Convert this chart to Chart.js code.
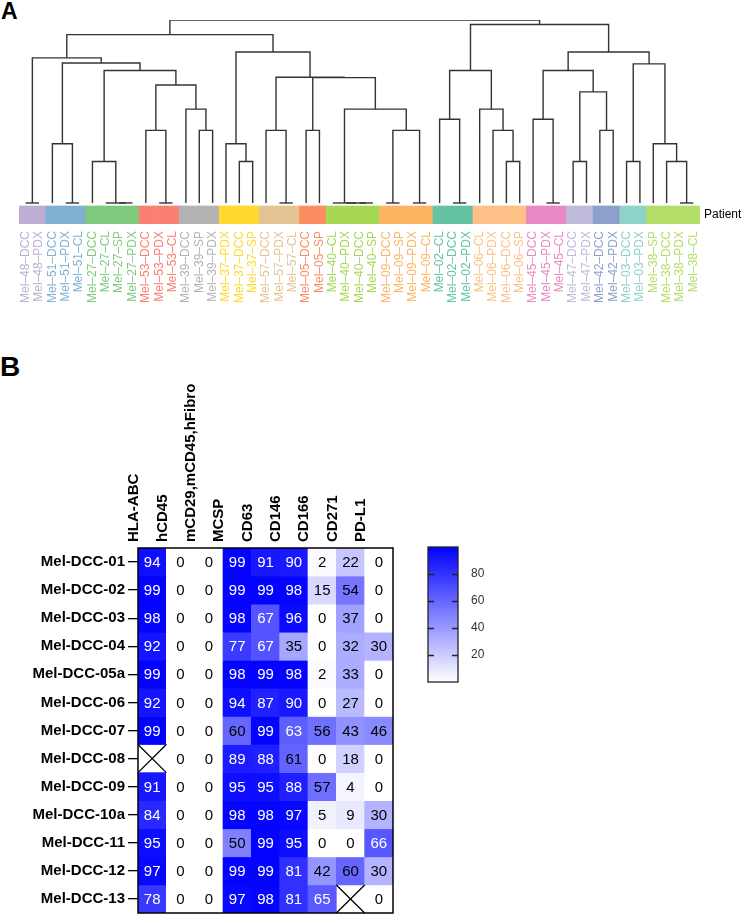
<!DOCTYPE html>
<html>
<head>
<meta charset="utf-8">
<script src="https://cdn.jsdelivr.net/npm/chart.js@4.4.1/dist/chart.umd.min.js"></script>
<style>
  body { margin: 0; background: #fff; width: 743px; height: 915px; position: relative; overflow: hidden;
         font-family: "Liberation Sans", Arial, Helvetica, sans-serif; }
  .box { position: absolute; }
  .panel { position: absolute; font-weight: bold; line-height: 1; color: #000; }
</style>
</head>
<body>
<div class="panel" style="left:1px;top:0;font-size:23px">A</div>
<div class="panel" style="left:0;top:353px;font-size:28px">B</div>
<div class="box" style="left:0;top:0;width:743px;height:314px"><canvas id="dendro"></canvas></div>
<div class="box" style="left:0;top:330px;width:400px;height:585px"><canvas id="heat"></canvas></div>
<div class="box" style="left:400px;top:530px;width:110px;height:170px"><canvas id="legend"></canvas></div>
<script>
// ---- panel A data ----
const leafLabels = [
  'Mel–48–DCC', 'Mel–48–PDX', 'Mel–51–DCC', 'Mel–51–PDX', 'Mel–51–CL',
  'Mel–27–DCC', 'Mel–27–CL', 'Mel–27–SP', 'Mel–27–PDX',
  'Mel–53–DCC', 'Mel–53–PDX', 'Mel–53–CL', 'Mel–39–DCC', 'Mel–39–SP', 'Mel–39–PDX',
  'Mel–37–PDX', 'Mel–37–DCC', 'Mel–37–SP', 'Mel–57–DCC', 'Mel–57–PDX', 'Mel–57–CL',
  'Mel–05–DCC', 'Mel–05–SP', 'Mel–40–CL', 'Mel–40–PDX', 'Mel–40–DCC', 'Mel–40–SP',
  'Mel–09–DCC', 'Mel–09–SP', 'Mel–09–PDX', 'Mel–09–CL', 'Mel–02–CL', 'Mel–02–DCC', 'Mel–02–PDX',
  'Mel–06–CL', 'Mel–06–PDX', 'Mel–06–DCC', 'Mel–06–SP', 'Mel–45–DCC', 'Mel–45–PDX', 'Mel–45–CL',
  'Mel–47–DCC', 'Mel–47–PDX', 'Mel–42–DCC', 'Mel–42–PDX', 'Mel–03–DCC', 'Mel–03–PDX',
  'Mel–38–SP', 'Mel–38–DCC', 'Mel–38–PDX', 'Mel–38–CL'
];
const patientColors = {
  '48': '#BEAED4', '51': '#80B1D3', '27': '#7FC97F', '53': '#FB8072', '39': '#B3B3B3',
  '37': '#FFD92F', '57': '#E5C494', '05': '#FC8D62', '40': '#A6D854', '09': '#FDB462',
  '02': '#66C2A5', '06': '#FDC086', '45': '#E78AC3', '47': '#BEBADA', '42': '#8DA0CB',
  '03': '#8DD3C7', '38': '#B3DE69'
};
// merges like hclust: negative = leaf (-1 is first leaf), positive = earlier merge (1-based), then height
const merges = [
  [-1, -2, 0], [-4, -5, 0], [-3, 2, 3.24], [-8, -9, 0], [-7, 4, 0],
  [-6, 5, 2.27], [-11, -12, 0], [-10, 7, 3.97], [-14, -15, 3.97], [-13, 9, 5.13],
  [8, 10, 6.45], [6, 11, 7.24], [3, 12, 7.65], [1, 13, 7.93], [-17, -18, 2.27],
  [-16, 15, 3.24], [-20, -21, 0], [-19, 17, 3.97], [-22, -23, 3.97], [-26, -27, 0],
  [-25, 20, 0], [-24, 21, 0], [-28, -29, 0], [-30, -31, 0], [23, 24, 3.97],
  [22, 25, 5.13], [19, 26, 6.85], [18, 27, 6.87], [16, 28, 8.25], [14, 29, 9.20],
  [-33, -34, 0], [-32, 31, 4.58], [-37, -38, 2.27], [-36, 33, 3.97], [-35, 34, 5.13],
  [32, 35, 7.24], [-40, -41, 0], [-39, 37, 4.58], [-42, -43, 2.27], [-44, -45, 3.97],
  [39, 40, 6.07], [38, 41, 7.24], [-46, -47, 2.27], [-50, -51, 0], [-49, 44, 2.27],
  [-48, 45, 3.24], [43, 46, 7.60], [42, 47, 8.25], [36, 48, 9.75], [30, 49, 10.0]
];

// ---- panel B data ----
const markers = ['HLA-ABC', 'hCD45', 'mCD29,mCD45,hFibro', 'MCSP', 'CD63', 'CD146', 'CD166', 'CD271', 'PD-L1'];
const samples = ['Mel-DCC-01', 'Mel-DCC-02', 'Mel-DCC-03', 'Mel-DCC-04', 'Mel-DCC-05a', 'Mel-DCC-06',
  'Mel-DCC-07', 'Mel-DCC-08', 'Mel-DCC-09', 'Mel-DCC-10a', 'Mel-DCC-11', 'Mel-DCC-12', 'Mel-DCC-13'];
const cellValues = [
  [94, 0, 0, 99, 91, 90, 2, 22, 0],
  [99, 0, 0, 99, 99, 98, 15, 54, 0],
  [98, 0, 0, 98, 67, 96, 0, 37, 0],
  [92, 0, 0, 77, 67, 35, 0, 32, 30],
  [99, 0, 0, 98, 99, 98, 2, 33, 0],
  [92, 0, 0, 94, 87, 90, 0, 27, 0],
  [99, 0, 0, 60, 99, 63, 56, 43, 46],
  [null, 0, 0, 89, 88, 61, 0, 18, 0],
  [91, 0, 0, 95, 95, 88, 57, 4, 0],
  [84, 0, 0, 98, 98, 97, 5, 9, 30],
  [95, 0, 0, 50, 99, 95, 0, 0, 66],
  [97, 0, 0, 99, 99, 81, 42, 60, 30],
  [78, 0, 0, 97, 98, 81, 65, null, 0]
];
const legendTicks = [20, 40, 60, 80];

const FONT = '"Liberation Sans", Arial, Helvetica, sans-serif';
Chart.defaults.font.family = FONT;
Chart.defaults.animation = false;
Chart.defaults.plugins.legend.display = false;
Chart.defaults.plugins.tooltip.enabled = false;

// fix an axis box size and drop the extra label overhang padding
function fitBox(w, h) {
  return s => {
    if (w !== null) s.width = w;
    if (h !== null) s.height = h;
    s.paddingLeft = 0; s.paddingRight = 0; s.paddingTop = 0; s.paddingBottom = 0;
  };
}

// ---------- dendrogram ----------
const leafColors = leafLabels.map(l => patientColors[l.split('–')[1]]);
const nodes = [];
function ref(r) { return r < 0 ? { x: -r - 1, h: 0 } : nodes[r - 1]; }
merges.forEach(([a, b, h]) => {
  const L = ref(a), R = ref(b);
  nodes.push({ x: (L.x + R.x) / 2, h: h, L: L, R: R });
});
const Y_MIN = -1.148, STRIP_TOP = -0.164;
const dendroSets = nodes.map(n => ({
  type: 'scatter', showLine: true, pointRadius: 0, pointHoverRadius: 0, pointBorderWidth: 0,
  borderColor: '#333', borderWidth: 1.4,
  data: [{ x: n.L.x, y: n.L.h }, { x: n.L.x, y: n.h }, { x: n.R.x, y: n.h }, { x: n.R.x, y: n.R.h }]
}));
dendroSets.push({
  type: 'bar', grouped: false, barPercentage: 1, categoryPercentage: 1, borderWidth: 0,
  backgroundColor: leafColors,
  data: leafLabels.map((_, i) => ({ x: i, y: [Y_MIN, STRIP_TOP] }))
});

new Chart(document.getElementById('dendro'), {
  type: 'scatter',
  data: { datasets: dendroSets },
  options: {
    responsive: true, maintainAspectRatio: false,
    layout: { autoPadding: false, padding: { left: 19, top: 20, right: 0, bottom: 0 } },
    scales: {
      x: {
        type: 'linear', offset: false, min: -0.5, max: leafLabels.length - 0.5,
        afterBuildTicks: s => { s.ticks = leafLabels.map((_, i) => ({ value: i })); },
        afterFit: fitBox(null, 90),
        grid: { display: false, drawTicks: false, offset: false }, border: { display: false },
        ticks: {
          autoSkip: false, minRotation: 90, maxRotation: 90, padding: 7,
          font: { size: 12 }, color: c => leafColors[c.index],
          callback: (v, i) => leafLabels[i]
        }
      },
      y: { type: 'linear', offset: false, min: Y_MIN, max: 10, display: false },
      y2: {
        type: 'linear', offset: false, position: 'right', min: Y_MIN, max: 10,
        afterBuildTicks: s => { s.ticks = [{ value: (Y_MIN + STRIP_TOP) / 2 }]; },
        afterFit: fitBox(43, null),
        grid: { display: false, drawTicks: false }, border: { display: false },
        ticks: { padding: 4, color: '#000', font: { size: 12 }, callback: () => 'Patient' }
      }
    }
  }
});

// ---------- heatmap ----------
function cellColor(v) {
  if (v === null) return 'rgba(0,0,0,0)';
  const k = Math.round(255 * (1 - v / 100));
  return `rgb(${k},${k},255)`;
}
const heatSets = samples.map((s, r) => ({
  label: s, grouped: false, barPercentage: 1, categoryPercentage: 1, borderWidth: 0,
  data: cellValues[r].map(v => v === null ? null : [r, r + 1]),
  backgroundColor: cellValues[r].map(cellColor)
}));

const cellText = {
  id: 'cellText',
  afterDatasetsDraw(chart) {
    const { ctx, chartArea: a, scales: { x, y } } = chart;
    const w = (a.right - a.left) / markers.length;
    ctx.save();
    ctx.font = '15px ' + FONT;
    ctx.textAlign = 'center';
    ctx.textBaseline = 'middle';
    cellValues.forEach((row, r) => row.forEach((v, c) => {
      const cx = x.getPixelForValue(c), cy = y.getPixelForValue(r + 0.5);
      if (v === null) {
        const x0 = cx - w / 2, x1 = cx + w / 2, y0 = y.getPixelForValue(r), y1 = y.getPixelForValue(r + 1);
        ctx.beginPath();
        ctx.moveTo(x0, y0); ctx.lineTo(x1, y1);
        ctx.moveTo(x1, y0); ctx.lineTo(x0, y1);
        ctx.strokeStyle = '#000'; ctx.lineWidth = 1.3; ctx.stroke();
      } else {
        ctx.fillStyle = v >= 62 ? '#fff' : '#000';
        ctx.fillText(String(v), cx, cy + 1);
      }
    }));
    ctx.lineWidth = 1.5;
    ctx.strokeStyle = '#000';
    ctx.strokeRect(a.left, a.top, a.right - a.left, a.bottom - a.top);
    ctx.restore();
  }
};

new Chart(document.getElementById('heat'), {
  type: 'bar',
  data: { labels: markers, datasets: heatSets },
  options: {
    responsive: true, maintainAspectRatio: false,
    layout: { padding: { left: 0, top: 0, right: 7, bottom: 2 } },
    scales: {
      x: {
        type: 'category', position: 'top', offset: true,
        afterFit: fitBox(null, 218),
        grid: { display: false, drawTicks: false }, border: { display: false },
        ticks: { autoSkip: false, minRotation: 90, maxRotation: 90, padding: 6, color: '#000',
                 font: { size: 15, weight: 'bold' } }
      },
      y: {
        type: 'linear', reverse: true, min: 0, max: samples.length,
        afterBuildTicks: s => { s.ticks = samples.map((_, r) => ({ value: r + 0.5 })); },
        afterFit: fitBox(138, null),
        grid: { drawOnChartArea: false, drawTicks: true, tickLength: 10, color: '#000', lineWidth: 1.3 },
        border: { display: false },
        ticks: { padding: 3, color: '#000', font: { size: 15, weight: 'bold' },
                 callback: (v, i) => samples[i] }
      }
    }
  },
  plugins: [cellText]
});

// ---------- colour scale ----------
const legendFrame = {
  id: 'legendFrame',
  afterDatasetsDraw(chart) {
    const { ctx, chartArea: a, scales: { y } } = chart;
    ctx.save();
    ctx.strokeStyle = '#222';
    ctx.lineWidth = 1.3;
    legendTicks.forEach(t => {
      const py = Math.round(y.getPixelForValue(t)) + 0.5;
      ctx.beginPath();
      ctx.moveTo(a.left, py); ctx.lineTo(a.left + 6, py);
      ctx.moveTo(a.right - 6, py); ctx.lineTo(a.right, py);
      ctx.stroke();
    });
    ctx.strokeRect(a.left, a.top, a.right - a.left, a.bottom - a.top);
    ctx.restore();
  }
};

new Chart(document.getElementById('legend'), {
  type: 'bar',
  data: {
    labels: [''],
    datasets: [{
      data: [[0, 100]], barPercentage: 1, categoryPercentage: 1, borderWidth: 0,
      backgroundColor: c => {
        const area = c.chart.chartArea;
        if (!area) return '#8080ff';
        const g = c.chart.ctx.createLinearGradient(0, area.bottom, 0, area.top);
        g.addColorStop(0, '#ffffff');
        g.addColorStop(1, '#0000ff');
        return g;
      }
    }]
  },
  options: {
    responsive: true, maintainAspectRatio: false,
    layout: { padding: { left: 28, top: 17, right: 0, bottom: 18 } },
    scales: {
      x: { display: false, offset: true },
      y: {
        position: 'right', min: 0, max: 100,
        afterBuildTicks: s => { s.ticks = legendTicks.map(v => ({ value: v })); },
        afterFit: fitBox(52, null),
        grid: { display: false, drawTicks: false }, border: { display: false },
        ticks: { padding: 13, color: '#333', font: { size: 12 } }
      }
    }
  },
  plugins: [legendFrame]
});
</script>
</body>
</html>
